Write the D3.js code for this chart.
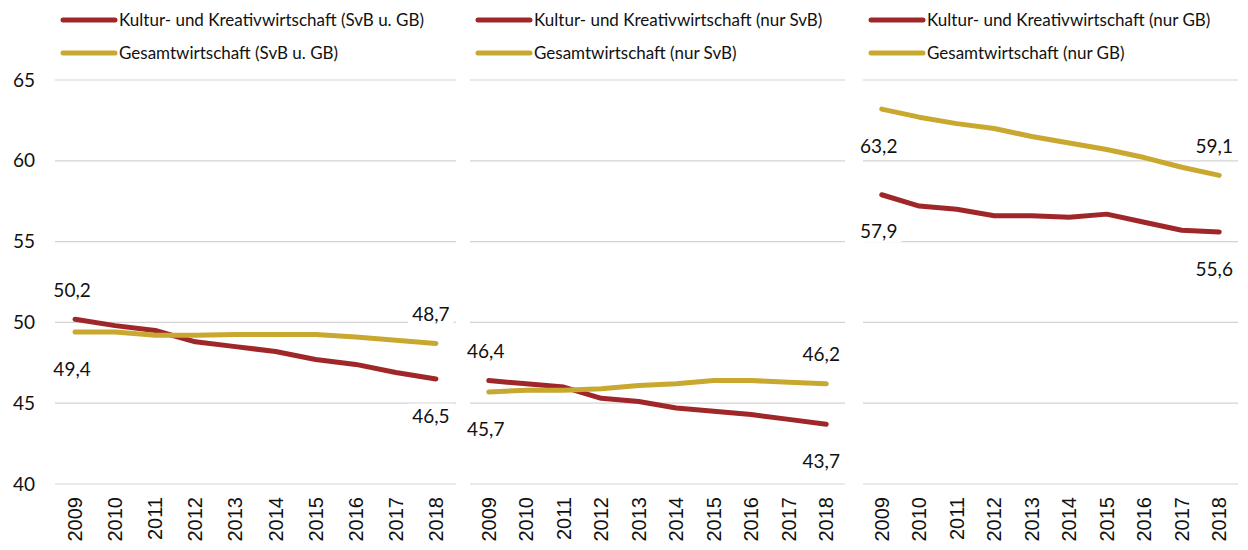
<!DOCTYPE html>
<html>
<head>
<meta charset="utf-8">
<script src="https://cdn.jsdelivr.net/npm/d3@7"></script>
<style>
  body { margin: 0; background: #fff; }
  svg text { font-family: Lato, "Open Sans", sans-serif; fill: #111; }
  .year text { font-family: "Liberation Sans", Arial, sans-serif; }
</style>
</head>
<body>
<div id="chart"></div>
<script>
// data
const years = ["2009", "2010", "2011", "2012", "2013", "2014", "2015", "2016", "2017", "2018"];
const yTicks = [40, 45, 50, 55, 60, 65];

const kkwSvbGb = [50.2, 49.8, 49.5, 48.8, 48.5, 48.2, 47.7, 47.4, 46.9, 46.5];
const gesSvbGb = [49.4, 49.4, 49.2, 49.2, 49.25, 49.25, 49.25, 49.1, 48.9, 48.7];
const kkwSvb = [46.4, 46.2, 46.0, 45.3, 45.1, 44.7, 44.5, 44.3, 44.0, 43.7];
const gesSvb = [45.7, 45.8, 45.8, 45.9, 46.1, 46.2, 46.4, 46.4, 46.3, 46.2];
const kkwGb = [57.9, 57.2, 57.0, 56.6, 56.6, 56.5, 56.7, 56.2, 55.7, 55.6];
const gesGb = [63.2, 62.7, 62.3, 62.0, 61.5, 61.1, 60.7, 60.2, 59.6, 59.1];

const legendKkw = ["Kultur- und Kreativwirtschaft (SvB u. GB)", "Kultur- und Kreativwirtschaft (nur SvB)", "Kultur- und Kreativwirtschaft (nur GB)"];
const legendGes = ["Gesamtwirtschaft (SvB u. GB)", "Gesamtwirtschaft (nur SvB)", "Gesamtwirtschaft (nur GB)"];

const red = "#a02729", gold = "#c9a830";

// panels: x extents and where the first/last labels go ("up" / "down")
const panels = [
  { x0: 55, x1: 456, series: [
      { values: kkwSvbGb, color: red, name: legendKkw[0], first: "up", last: "down" },
      { values: gesSvbGb, color: gold, name: legendGes[0], first: "down", last: "up" } ] },
  { x0: 470, x1: 845, series: [
      { values: kkwSvb, color: red, name: legendKkw[1], first: "up", last: "down" },
      { values: gesSvb, color: gold, name: legendGes[1], first: "down", last: "up" } ] },
  { x0: 863, x1: 1238, series: [
      { values: kkwGb, color: red, name: legendKkw[2], first: "down", last: "down" },
      { values: gesGb, color: gold, name: legendGes[2], first: "down", last: "up" } ] }
];

const W = 1248, H = 550;
const svg = d3.select("#chart").append("svg")
    .attr("width", W).attr("height", H);

const y = d3.scaleLinear().domain([40, 65]).range([484, 80]);
const fmt = v => d3.format(".1f")(v).replace(".", ",");

// y axis labels (only left)
svg.append("g").selectAll("text")
  .data(yTicks).join("text")
    .attr("x", 35).attr("y", d => y(d))
    .attr("dy", "0.35em")
    .attr("text-anchor", "end")
    .attr("font-size", 19)
    .text(d => d);

panels.forEach(function (p) {
  const g = svg.append("g");
  const x = d3.scaleBand().domain(years).range([p.x0, p.x1]);
  const cx = d => x(d) + x.bandwidth() / 2;

  // gridlines
  g.append("g").selectAll("line")
    .data(yTicks).join("line")
      .attr("x1", p.x0).attr("x2", p.x1)
      .attr("y1", d => y(d)).attr("y2", d => y(d))
      .attr("stroke", "#d4d4d4").attr("stroke-width", 1.2);

  // year labels
  g.append("g").attr("class", "year").selectAll("text")
    .data(years).join("text")
      .attr("transform", d => `translate(${cx(d)}, 497) rotate(-90)`)
      .attr("text-anchor", "end")
      .attr("dy", "0.35em")
      .attr("font-size", 20)
      .text(d => d);

  // lines
  const line = d3.line()
    .x((d, i) => cx(years[i]))
    .y(d => y(d));
  g.selectAll(".series")
    .data(p.series).join("path")
      .attr("fill", "none")
      .attr("stroke", d => d.color)
      .attr("stroke-width", 5)
      .attr("stroke-linecap", "round")
      .attr("stroke-linejoin", "round")
      .attr("d", d => line(d.values));

  // end labels with white background
  p.series.forEach(function (s) {
    [[0, s.first], [years.length - 1, s.last]].forEach(function ([i, pos]) {
      const lx = cx(years[i]) + (i === 0 ? -3 : -5);
      const ly = y(s.values[i]) + (pos === "up" ? -29 : 37);
      const lg = g.append("g");
      const t = lg.append("text")
        .attr("x", lx).attr("y", ly)
        .attr("dy", "0.35em")
        .attr("text-anchor", "middle")
        .attr("font-size", 19)
        .text(fmt(s.values[i]));
      const bb = t.node().getBBox();
      lg.insert("rect", "text")
        .attr("x", bb.x - 4).attr("y", bb.y)
        .attr("width", bb.width + 8).attr("height", bb.height)
        .attr("fill", "#fff");
    });
  });

  // legend
  const leg = g.append("g").selectAll("g")
    .data(p.series).join("g")
      .attr("transform", (d, i) => `translate(${p.x0 + 8}, ${20 + i * 33})`);
  leg.append("line")
    .attr("x1", 0).attr("x2", 52)
    .attr("stroke", d => d.color)
    .attr("stroke-width", 5)
    .attr("stroke-linecap", "round");
  leg.append("text")
    .attr("x", 56).attr("dy", "0.35em")
    .attr("font-size", 17)
    .text(d => d.name);
});
</script>
</body>
</html>
